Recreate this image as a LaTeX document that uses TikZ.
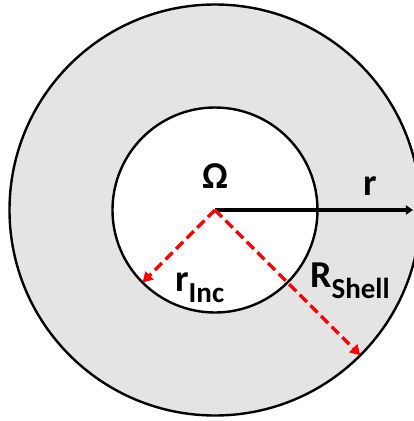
\documentclass[tikz,border=0pt]{standalone}
\usepackage{fontspec}
\setmainfont{Carlito}
\usepackage{tikz}
\usetikzlibrary{positioning, arrows.meta, calc}
\definecolor{shellgray}{HTML}{E4E4E4}
\definecolor{dashred}{HTML}{FF0000}

\begin{document}
\begin{tikzpicture}[
    x=1pt, y=1pt,
    ring/.style={draw=black, line width=2.4pt, circle, inner sep=0pt, outer sep=0pt},
    radiusarrow/.style={draw=dashred, line width=3.2pt, dash pattern=on 10pt off 5pt, -{Triangle[length=10pt, width=11pt]}},
    axisarrow/.style={draw=black, line width=3.4pt, -{Triangle[length=7pt, width=9pt]}},
    biglabel/.style={font=\fontsize{38}{38}\selectfont\bfseries, inner sep=0pt},
    sublabel/.style={font=\fontsize{29}{29}\selectfont\bfseries},
]
\useasboundingbox (-215,-211) rectangle (198,210);

% Kreise (Schale und Einschluss)
\coordinate (O) at (0,0);
\node[ring, fill=shellgray, minimum size=411pt] (shell) at (O) {};
\node[ring, fill=white, minimum size=205pt] (inc) at (O) {};

% Radiale Achse
\coordinate (rEnd) at (198,0);
\draw[axisarrow] (O) -- (rEnd);

% Radien (gestrichelt)
\draw[radiusarrow] (O) -- (inc.225);
\draw[radiusarrow] (O) -- (shell.-45);

% Beschriftungen
\node[biglabel, anchor=base] (omega) at (0,22) {Ω};
\node[biglabel, anchor=base west] (rlab) at (148,15) {r};
\node[biglabel, anchor=base west] (rinc) at (-40,-81) {r\raisebox{-11pt}{\fontsize{29}{29}\selectfont Inc}};
\node[biglabel, anchor=base west] (rshell) at (95,-77) {R\raisebox{-11pt}{\fontsize{29}{29}\selectfont Shell}};

\end{tikzpicture}
\end{document}
